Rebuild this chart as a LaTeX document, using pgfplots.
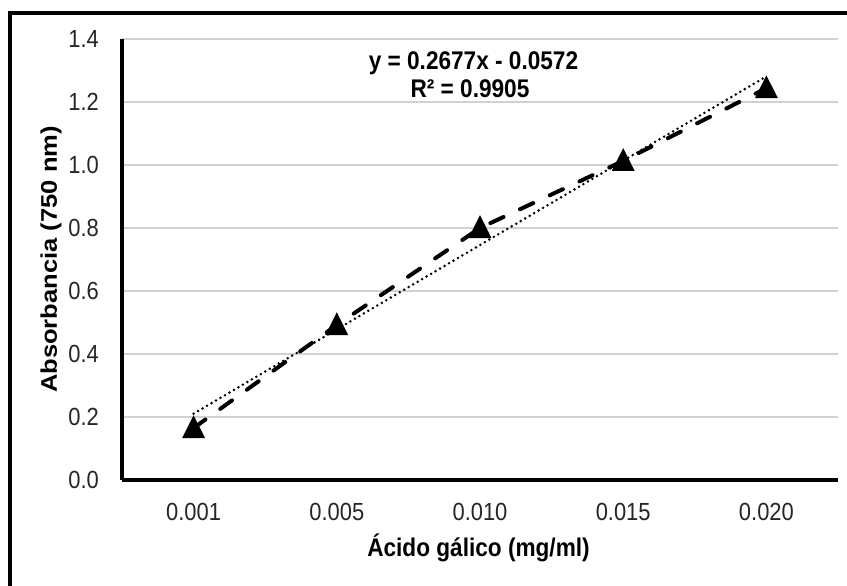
\documentclass[border=0pt]{standalone}
\usepackage{fontspec}
\setmainfont{Liberation Sans}
\usepackage{pgfplots}
\pgfplotsset{compat=1.18}
\begin{document}
\begin{tikzpicture}
\path[use as bounding box] (0bp,0bp) rectangle (847bp,586bp);
\fill[white] (0bp,0bp) rectangle (847bp,586bp);
\draw[line width=4bp] (10bp,0bp) -- (10bp,572.5bp) -- (847bp,572.5bp);
\begin{axis}[
  at={(122bp,106bp)}, anchor=south west,
  scale only axis, width=716bp, height=441bp,
  xmin=0.5, xmax=5.5, ymin=0, ymax=1.4,
  xtick={1,2,3,4,5},
  xticklabels={0.001,0.005,0.010,0.015,0.020},
  ytick={0,0.2,0.4,0.6,0.8,1.0,1.2,1.4},
  yticklabel style={/pgf/number format/fixed, /pgf/number format/fixed zerofill, /pgf/number format/precision=1},
  /pgf/number format/assume math mode=true,
  axis lines*=left,
  axis line style={line width=3.5bp, black},
  major tick length=0pt,
  ymajorgrids,
  major grid style={line width=1.2bp, color=black!18},
  tick label style={font=\fontsize{22}{26}\selectfont, inner sep=0pt, text=black!85},
  yticklabel style={anchor=east, xshift=-23bp, yscale=1.13},
  xticklabel style={anchor=north, yshift=-23bp, yscale=1.13},
  clip=false,
]
\addplot[black, line width=4bp, dash pattern=on 14.5bp off 18.3bp, line cap=round,
  mark=triangle*, mark size=9.5bp, mark options={solid, yshift=-2.6bp, yscale=1.15}]
  coordinates {(1,0.165)(2,0.492)(3,0.800)(4,1.013)(5,1.244)};
\addplot[black, line width=2.8bp, dash pattern=on 0bp off 5.2bp, line cap=round]
  coordinates {(1,0.2105)(5,1.2813)};
\end{axis}
\node[font=\bfseries\fontsize{22.7}{27}\selectfont, anchor=base, yscale=1.13] at (478.5bp,30bp) {Ácido gálico (mg/ml)};
\node[font=\bfseries\fontsize{22.7}{27}\selectfont, rotate=90, xscale=1.13] at (51bp,326.5bp) {Absorbancia (750 nm)};
\node[font=\bfseries\fontsize{22.7}{27}\selectfont, anchor=base, yscale=1.13] at (473.5bp,516bp) {y = 0.2677x - 0.0572};
\node[font=\bfseries\fontsize{22.7}{27}\selectfont, anchor=base, yscale=1.13] at (470bp,488bp) {R² = 0.9905};
\end{tikzpicture}
\end{document}
